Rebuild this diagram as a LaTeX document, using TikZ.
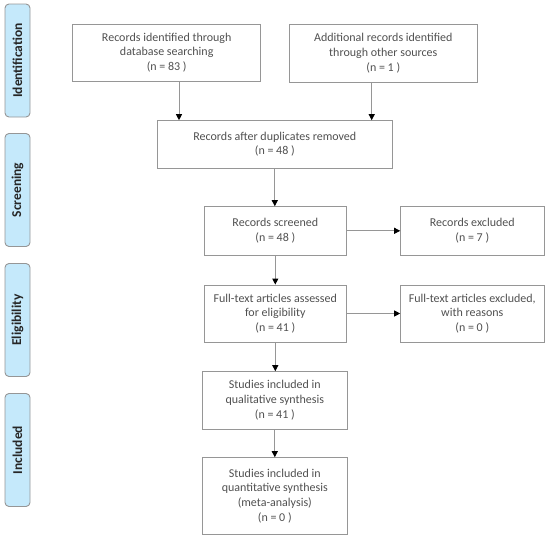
\documentclass[tikz,border=0pt]{standalone}
\usepackage{fontspec}
\setmainfont{Carlito}
\usetikzlibrary{arrows.meta,positioning,calc}
\definecolor{phasecolor}{RGB}{197, 233, 251}
\definecolor{linecolor}{RGB}{150, 150, 150}
\definecolor{textcolor}{RGB}{80, 80, 80}

\begin{document}
\begin{tikzpicture}[
        x=1pt, y=-1pt,
        box/.style={rectangle, draw=linecolor, line width=0.9pt, align=center, text=textcolor,
            font=\fontsize{12}{14.7}\selectfont, inner sep=2pt},
        phase/.style={rectangle, rounded corners=4pt, draw=linecolor, line width=0.9pt, fill=phasecolor,
            minimum width=113pt, minimum height=25pt, rotate=90, font=\fontsize{13.5}{15}\selectfont\bfseries, text=black!85},
        arrow/.style={-{Triangle[length=6pt, width=6pt, color=black]}, draw=linecolor, line width=0.9pt}
    ]
        \useasboundingbox (0,0) rectangle (550,541);

        % Phase labels
        \node[phase] (identification) at (17.5,60.5) {Identification};
        \node[phase] (screening) at (17.5,190) {Screening};
        \node[phase] (eligibility) at (17.5,320) {Eligibility};
        \node[phase] (included) at (17.5,450) {Included};

        % Identification
        \node[box, minimum width=188pt, minimum height=57pt] (database) at (166.7,52.5)
            {Records identified through\\database searching\\(n = 83 )};
        \node[box, minimum width=188.7pt, minimum height=58pt] (other) at (383.3,53)
            {Additional records identified\\through other sources\\(n = 1 )};

        % Screening
        \node[box, minimum width=234.3pt, minimum height=47.3pt] (duplicates) at (274.8,144.3)
            {Records after duplicates removed\\(n = 48 )};
        \node[box, minimum width=142.7pt, minimum height=48.3pt] (screened) at (275.3,230.8)
            {Records screened\\(n = 48 )};
        \node[box, minimum width=143.3pt, minimum height=48.3pt] (excluded) at (472.3,230.8)
            {Records excluded\\(n = 7 )};

        % Eligibility
        \node[box, minimum width=142.7pt, minimum height=57pt] (fulltext) at (275.3,313.5)
            {Full-text articles assessed\\for eligibility\\(n = 41 )};
        \node[box, minimum width=143.3pt, minimum height=57pt] (fulltextexcl) at (472.3,313.5)
            {Full-text articles excluded,\\with reasons\\(n = 0 )};

        % Included
        \node[box, minimum width=144.3pt, minimum height=57.3pt] (qualitative) at (274.8,400.3)
            {Studies included in\\qualitative synthesis\\(n = 41 )};
        \node[box, minimum width=144.3pt, minimum height=76.3pt] (quantitative) at (274.8,495.8)
            {Studies included in\\quantitative synthesis\\(meta-analysis)\\(n = 0 )};

        % Connections
        \draw[arrow] ([xshift=12.3pt]database.south) -- ([xshift=12.3pt]database.south |- duplicates.north);
        \draw[arrow] ([xshift=-11.6pt]other.south) -- ([xshift=-11.6pt]other.south |- duplicates.north);
        \draw[arrow] (duplicates.south) -- (duplicates.south |- screened.north);
        \draw[arrow] (screened) -- (excluded);
        \draw[arrow] (screened.south) -- (screened.south |- fulltext.north);
        \draw[arrow] (fulltext) -- (fulltextexcl);
        \draw[arrow] (fulltext.south) -- (fulltext.south |- qualitative.north);
        \draw[arrow] (qualitative.south) -- (qualitative.south |- quantitative.north);

    \end{tikzpicture}
\end{document}
